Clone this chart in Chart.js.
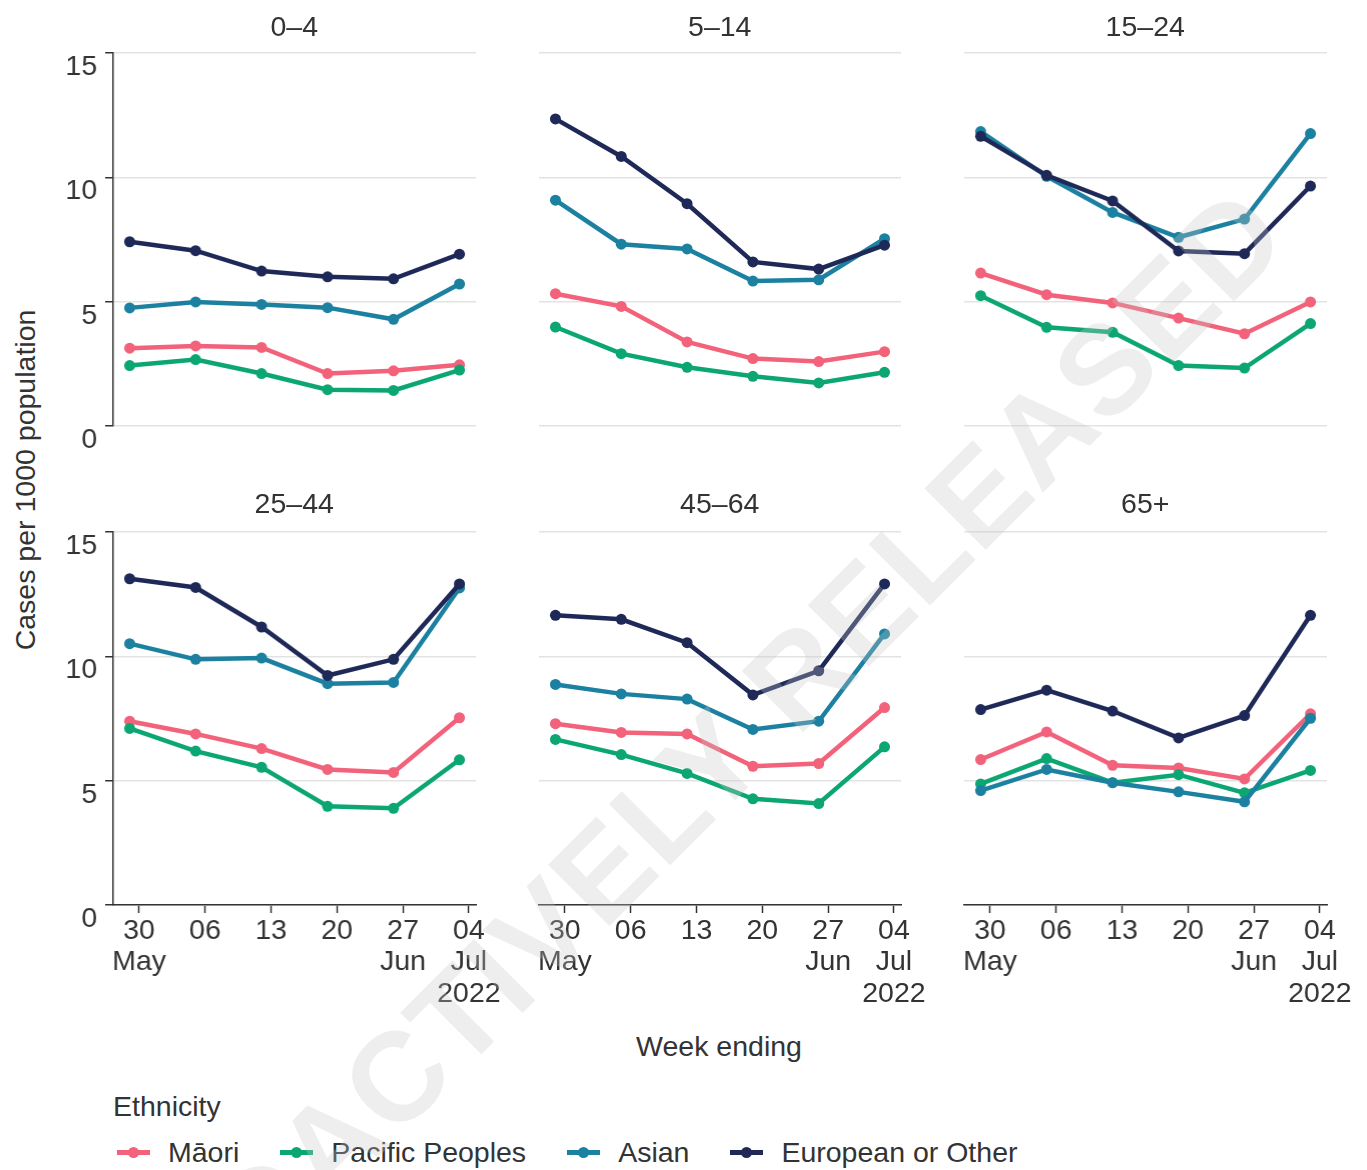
<!DOCTYPE html>
<html>
<head>
<meta charset="utf-8">
<script src="https://cdn.jsdelivr.net/npm/chart.js@4.4.1/dist/chart.umd.min.js"></script>
<style>
  html, body { margin: 0; padding: 0; width: 1367px; height: 1170px; overflow: hidden; background: #fff; }
  body { position: relative; font-family: "Liberation Sans", Arial, sans-serif; color: #333; }
  canvas { position: absolute; }
  .txt { position: absolute; font-size: 28.5px; line-height: 32px; white-space: nowrap; color: #333; }
  .title { transform: translate(-50%, -50%); }
  #ylab { left: 25px; top: 480px; transform: translate(-50%, -50%) rotate(-90deg); }
  #xlab { left: 719px; top: 1046px; transform: translate(-50%, -50%); }
  #legtitle { left: 113px; top: 1090px; }
  #legend { position: absolute; left: 117px; top: 1136px; display: flex; align-items: center; font-size: 28.5px; line-height: 32px; }
  .item { display: flex; align-items: center; margin-right: 41px; }
  .key { position: relative; width: 33px; height: 11px; margin-right: 18px; }
  .key .ln { position: absolute; left: 0; right: 0; top: 3px; height: 5px; }
  .key .pt { position: absolute; left: 11px; top: 0; width: 11px; height: 11px; border-radius: 50%; }
  #wm { position: absolute; left: 682px; top: 792px; transform: translate(-50%, -50%) rotate(-45deg);
        font-size: 126px; font-weight: bold; color: rgba(200, 200, 200, 0.3); white-space: nowrap;
        pointer-events: none; z-index: 5; letter-spacing: 2px; }
</style>
</head>
<body>
<div id="ylab" class="txt">Cases per 1000 population</div>
<div id="xlab" class="txt">Week ending</div>
<div id="legtitle" class="txt">Ethnicity</div>
<div id="legend"></div>
<div id="wm">PROACTIVELY RELEASED</div>
<script>
const weekEnding = ['2022-05-29', '2022-06-05', '2022-06-12', '2022-06-19', '2022-06-26', '2022-07-03'];
const tickDates = ['2022-05-30', '2022-06-06', '2022-06-13', '2022-06-20', '2022-06-27', '2022-07-04'];
const tickLabels = [['30', 'May'], ['06'], ['13'], ['20'], ['27', 'Jun'], ['04', 'Jul', '2022']];
const ageGroups = ['0–4', '5–14', '15–24', '25–44', '45–64', '65+'];
const ethnicities = ['Māori', 'Pacific Peoples', 'Asian', 'European or Other'];
const colours = ['#F2627A', '#0CA673', '#1C81A1', '#1E2958'];
const yTicks = [0, 5, 10, 15];

// cases per 1000, one row per age group
const maori = [
    [3.13, 3.22, 3.16, 2.11, 2.22, 2.46],
    [5.32, 4.81, 3.38, 2.71, 2.59, 2.99],
    [6.15, 5.28, 4.95, 4.34, 3.71, 4.99],
    [7.39, 6.88, 6.29, 5.45, 5.33, 7.53],
    [7.29, 6.94, 6.88, 5.58, 5.69, 7.94],
    [5.85, 6.96, 5.62, 5.51, 5.07, 7.69],
];
const pacific = [
    [2.43, 2.67, 2.11, 1.46, 1.43, 2.25],
    [3.98, 2.91, 2.36, 2.00, 1.73, 2.16],
    [5.24, 3.97, 3.77, 2.43, 2.33, 4.12],
    [7.10, 6.19, 5.54, 3.97, 3.89, 5.84],
    [6.66, 6.05, 5.29, 4.27, 4.08, 6.36],
    [4.87, 5.89, 4.92, 5.24, 4.51, 5.41],
];
const asian = [
    [4.75, 4.99, 4.89, 4.76, 4.29, 5.71],
    [9.08, 7.31, 7.12, 5.83, 5.88, 7.53],
    [11.84, 10.04, 8.59, 7.59, 8.32, 11.76],
    [10.51, 9.88, 9.93, 8.90, 8.95, 12.75],
    [8.87, 8.49, 8.28, 7.06, 7.39, 10.90],
    [4.60, 5.45, 4.92, 4.55, 4.15, 7.51],
];
const european = [
    [7.41, 7.05, 6.23, 6.00, 5.92, 6.91],
    [12.35, 10.84, 8.94, 6.60, 6.31, 7.27],
    [11.65, 10.08, 9.05, 7.04, 6.93, 9.65],
    [13.12, 12.77, 11.18, 9.23, 9.88, 12.91],
    [11.65, 11.49, 10.55, 8.45, 9.42, 12.91],
    [7.86, 8.64, 7.80, 6.72, 7.62, 11.65],
];
const series = [maori, pacific, asian, european];

const day0 = Date.parse(weekEnding[0]);
const dayOf = d => (Date.parse(d) - day0) / 86400000;
const tickDays = tickDates.map(dayOf);

// panel geometry
const colLeft = [113, 538.5, 964];
const rowTop = [53.3, 531.7];
const plotW = 362.5, plotH = 373;
const yAxisW = 100, padR = 45, padT = 30;
const axisCol = '#333', gridCol = '#e3e3e3';
const font = { family: '"Liberation Sans", Arial, sans-serif', size: 28.5, lineHeight: 1.11 };

ageGroups.forEach((age, i) => {
    const row = Math.floor(i / 3), col = i % 3;
    const bottom = row === 1, left = col === 0;
    const xAxisH = bottom ? 110 : 0;
    const cv = document.createElement('canvas');
    const w = yAxisW + plotW + padR, h = padT + plotH + (bottom ? xAxisH : padT);
    cv.width = w; cv.height = h;
    cv.style.left = (colLeft[col] - yAxisW) + 'px';
    cv.style.top = (rowTop[row] - padT) + 'px';
    cv.style.width = w + 'px'; cv.style.height = h + 'px';
    document.body.appendChild(cv);

    const t = document.createElement('div');
    t.className = 'txt title';
    t.textContent = age;
    t.style.left = (colLeft[col] + plotW / 2) + 'px';
    t.style.top = (row === 0 ? 26 : 503) + 'px';
    document.body.appendChild(t);

    new Chart(cv, {
        type: 'line',
        data: {
            datasets: ethnicities.map((eth, k) => ({
                label: eth,
                data: weekEnding.map((d, j) => ({ x: dayOf(d), y: series[k][i][j] })),
                borderColor: colours[k],
                backgroundColor: colours[k],
                borderWidth: 4.5,
                pointRadius: 5.5,
                pointBorderWidth: 0,
                tension: 0,
                order: 3 - k,
            }))
        },
        options: {
            responsive: false,
            animation: false,
            events: [],
            layout: { padding: { top: padT, right: padR, left: 0, bottom: bottom ? 0 : padT } },
            plugins: { legend: { display: false }, tooltip: { enabled: false } },
            scales: {
                x: {
                    type: 'linear',
                    display: bottom,
                    min: -1.75,
                    max: 36.75,
                    afterBuildTicks: s => { s.ticks = tickDays.map(v => ({ value: v })); },
                    afterFit: s => { s.height = xAxisH; },
                    border: { display: true, color: axisCol, width: 1.5 },
                    grid: { drawOnChartArea: false, drawTicks: true, tickLength: 8, tickColor: axisCol, tickWidth: 1.5 },
                    ticks: {
                        autoSkip: false, maxRotation: 0, padding: 2,
                        color: axisCol, font: font,
                        callback: (v, idx) => tickLabels[idx],
                    },
                },
                y: {
                    min: 0,
                    max: 15,
                    afterBuildTicks: s => { s.ticks = yTicks.map(v => ({ value: v })); },
                    afterFit: s => { s.width = yAxisW; },
                    border: { display: left, color: axisCol, width: 1.5 },
                    grid: {
                        color: gridCol, lineWidth: 1.5,
                        drawTicks: left, tickLength: 8, tickColor: axisCol, tickWidth: 1.5,
                    },
                    ticks: {
                        display: left, padding: 8, labelOffset: 14,
                        color: axisCol, font: font,
                    },
                },
            },
        },
    });
});

// legend
const leg = document.getElementById('legend');
ethnicities.forEach((eth, k) => {
    const it = document.createElement('div');
    it.className = 'item';
    it.innerHTML = '<div class="key"><div class="ln"></div><div class="pt"></div></div><span></span>';
    it.querySelector('.ln').style.background = colours[k];
    it.querySelector('.pt').style.background = colours[k];
    it.querySelector('span').textContent = eth;
    leg.appendChild(it);
});
</script>
</body>
</html>
